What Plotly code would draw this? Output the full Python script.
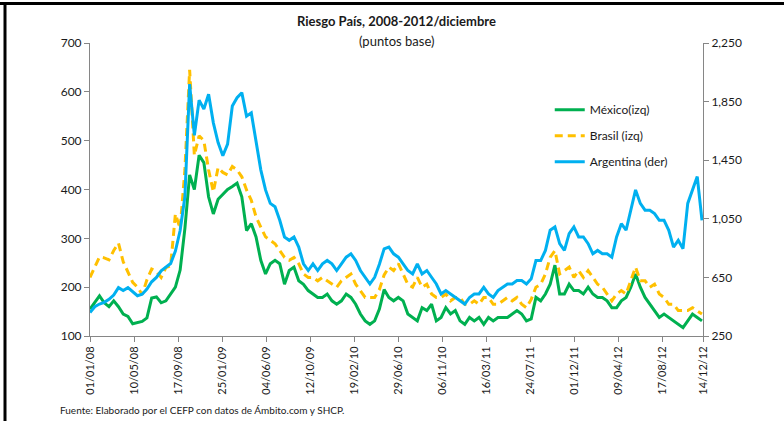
import plotly.graph_objects as go
import pandas as pd

# Biweekly sampling dates (every 14 days from 01/01/2008)
dates = pd.date_range("2008-01-01", periods=130, freq="14D")

mexico = [155,168,182,168,160,172,160,145,140,125,128,130,137,178,180,168,172,185,200,235,
          320,430,400,470,455,385,350,380,390,400,
          406,413,385,316,330,303,255,227,248,255,248,206,234,241,213,206,193,186,179,179,
          186,172,165,172,186,179,165,145,131,124,131,155,
          195,179,172,179,172,145,138,131,158,152,165,131,138,158,145,152,131,124,138,131,
          138,124,138,131,138,138,138,145,152,145,131,135,
          179,172,186,206,245,186,186,206,193,193,186,200,186,179,179,172,158,158,172,179,
          200,227,200,179,165,152,138,145,138,131,124,117,131,145,138,131]

brasil = [220,240,262,260,256,275,290,252,230,210,200,185,215,237,232,220,240,244,350,320,
          440,645,470,510,500,440,395,445,435,430,
          447,440,426,399,378,344,323,303,296,289,275,261,255,261,248,227,220,220,213,220,
          213,206,200,213,220,227,206,193,179,179,179,195,
          225,241,234,248,227,206,200,220,200,206,186,179,179,186,172,179,179,165,165,172,
          165,179,179,165,165,172,179,172,179,165,158,175,
          200,206,227,261,275,227,234,241,220,234,220,234,220,206,200,186,172,186,193,186,
          213,241,213,213,200,206,186,179,165,165,152,152,152,158,152,145]

argentina = [410,450,468,480,500,530,580,560,580,550,525,535,570,620,650,695,720,745,830,970,
             1200,1970,1620,1860,1800,1900,1705,1570,1480,1560,
             1820,1877,1911,1750,1773,1567,1384,1247,1155,1132,1040,926,903,926,857,743,697,743,697,743,
             766,743,697,743,788,811,766,697,651,605,651,740,
             845,857,811,788,743,697,674,743,674,697,651,605,537,560,537,513,490,468,513,537,
             537,582,537,513,560,582,605,605,628,628,605,640,
             765,765,834,972,995,880,834,949,995,926,926,880,811,834,811,811,788,926,1017,972,
             1109,1247,1155,1109,1109,1086,1040,1040,972,857,903,846,1155,1247,1338,1040]

tick_dates = ["2008-01-01","2008-05-10","2008-09-17","2009-01-25","2009-06-04","2009-10-12",
              "2010-02-19","2010-06-29","2010-11-06","2011-03-16","2011-07-24","2011-12-01",
              "2012-04-09","2012-08-17","2012-12-14"]
tick_labels = ["01/01/08","10/05/08","17/09/08","25/01/09","04/06/09","12/10/09",
               "19/02/10","29/06/10","06/11/10","16/03/11","24/07/11","01/12/11",
               "09/04/12","17/08/12","14/12/12"]
left_ticks = [100,200,300,400,500,600,700]
right_ticks = [250,650,1050,1450,1850,2250]

FONT = "Lato"
AX = "#868686"
TXT = "#1a1a1a"

fig = go.Figure()
fig.add_trace(go.Scatter(x=dates, y=mexico, name="México(izq)", mode="lines",
                         line=dict(color="#00B050", width=3), legendgroup="a"))
fig.add_trace(go.Scatter(x=dates, y=brasil, name="Brasil (izq)", mode="lines",
                         line=dict(color="#FFC000", width=3, dash="8px,5px"), legendgroup="b"))
fig.add_trace(go.Scatter(x=dates, y=argentina, name="Argentina (der)", mode="lines", yaxis="y2",
                         line=dict(color="#00B0F0", width=3), legendgroup="c"))

fig.update_layout(
    width=784, height=421, autosize=False,
    margin=dict(l=90, r=81, t=43, b=85),
    paper_bgcolor="white", plot_bgcolor="white",
    font=dict(family=FONT, size=12, color=TXT),
    showlegend=True,
    legend=dict(x=0.75, y=0.822, xanchor="left", yanchor="top",
                bgcolor="rgba(0,0,0,0)", font=dict(size=12, family=FONT, color=TXT),
                tracegroupgap=7, traceorder="grouped"),
    xaxis=dict(type="date", range=["2008-01-01", "2012-12-14"],
               tickmode="array", tickvals=tick_dates, ticktext=tick_labels,
               tickangle=-90, ticks="outside", ticklen=5, tickcolor=AX,
               showline=True, linecolor=AX, linewidth=1, showgrid=False, zeroline=False,
               tickfont=dict(size=11, family=FONT, color=TXT)),
    yaxis=dict(range=[100, 700], tickmode="array", tickvals=left_ticks,
               ticks="outside", ticklen=5, tickcolor=AX,
               showline=True, linecolor=AX, linewidth=1, showgrid=False, zeroline=False,
               tickfont=dict(size=12, family=FONT, color=TXT)),
    yaxis2=dict(range=[250, 2250], tickmode="array", tickvals=right_ticks, tickformat=",",
                overlaying="y", side="right",
                ticks="outside", ticklen=5, tickcolor=AX,
                showline=True, linecolor=AX, linewidth=1, showgrid=False, zeroline=False,
                tickfont=dict(size=12, family=FONT, color=TXT)),
    annotations=[
        dict(text="<b>Riesgo País, 2008-2012/diciembre</b>", xref="paper", yref="paper",
             x=0.5, y=1.075, xanchor="center", yanchor="middle", showarrow=False,
             font=dict(size=13, family=FONT, color=TXT)),
        dict(text="(puntos base)", xref="paper", yref="paper",
             x=0.5, y=1.006, xanchor="center", yanchor="middle", showarrow=False,
             font=dict(size=13, family=FONT, color=TXT)),
        dict(text="Fuente: Elaborado por el CEFP con datos de Ámbito.com y SHCP.",
             xref="paper", yref="paper", x=-0.052, y=-0.2526, xanchor="left", yanchor="middle",
             showarrow=False, font=dict(size=10, family=FONT, color=TXT)),
    ],
    shapes=[
        dict(type="line", xref="paper", yref="paper", x0=(0 - 90) / 613, x1=(784 - 90) / 613,
             y0=(336 - 3.5) / 293, y1=(336 - 3.5) / 293, line=dict(color="black", width=3)),
        dict(type="line", xref="paper", yref="paper", x0=(5 - 90) / 613, x1=(5 - 90) / 613,
             y0=(336 - 2) / 293, y1=(336 - 421) / 293, line=dict(color="black", width=3)),
    ],
)

fig.write_html("out.html",
               config={"displayModeBar": False},
               post_script="document.body.style.margin='0';document.body.style.padding='0';")
